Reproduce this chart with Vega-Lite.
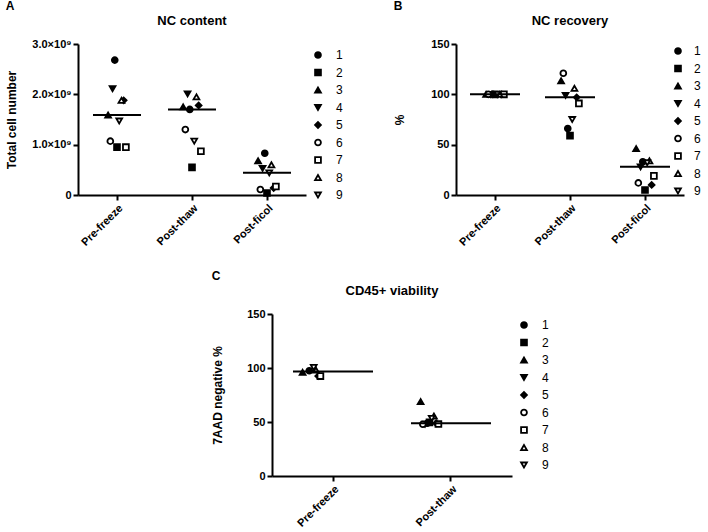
{
  "$schema": "https://vega.github.io/schema/vega-lite/v6.json",
  "padding": {"left": 5, "top": 0, "right": 0, "bottom": 0},
  "background": "white",
  "datasets": {
    "A": [
      {"cond": "Pre-freeze", "id": "1", "value": 2680000000},
      {"cond": "Pre-freeze", "id": "2", "value": 950000000},
      {"cond": "Pre-freeze", "id": "3", "value": 1590000000},
      {"cond": "Pre-freeze", "id": "4", "value": 2110000000},
      {"cond": "Pre-freeze", "id": "5", "value": 1880000000},
      {"cond": "Pre-freeze", "id": "6", "value": 1070000000},
      {"cond": "Pre-freeze", "id": "7", "value": 950000000},
      {"cond": "Pre-freeze", "id": "8", "value": 1880000000},
      {"cond": "Pre-freeze", "id": "9", "value": 1470000000},
      {"cond": "Post-thaw", "id": "1", "value": 1700000000},
      {"cond": "Post-thaw", "id": "2", "value": 550000000},
      {"cond": "Post-thaw", "id": "3", "value": 1750000000},
      {"cond": "Post-thaw", "id": "4", "value": 2010000000},
      {"cond": "Post-thaw", "id": "5", "value": 1780000000},
      {"cond": "Post-thaw", "id": "6", "value": 1300000000},
      {"cond": "Post-thaw", "id": "7", "value": 870000000},
      {"cond": "Post-thaw", "id": "8", "value": 1950000000},
      {"cond": "Post-thaw", "id": "9", "value": 1070000000},
      {"cond": "Post-ficol", "id": "1", "value": 830000000},
      {"cond": "Post-ficol", "id": "2", "value": 40000000},
      {"cond": "Post-ficol", "id": "3", "value": 680000000},
      {"cond": "Post-ficol", "id": "4", "value": 530000000},
      {"cond": "Post-ficol", "id": "5", "value": 140000000},
      {"cond": "Post-ficol", "id": "6", "value": 110000000},
      {"cond": "Post-ficol", "id": "7", "value": 170000000},
      {"cond": "Post-ficol", "id": "8", "value": 600000000},
      {"cond": "Post-ficol", "id": "9", "value": 440000000}
    ],
    "B": [
      {"cond": "Pre-freeze", "id": "1", "value": 100},
      {"cond": "Pre-freeze", "id": "2", "value": 100},
      {"cond": "Pre-freeze", "id": "3", "value": 100},
      {"cond": "Pre-freeze", "id": "4", "value": 100},
      {"cond": "Pre-freeze", "id": "5", "value": 100},
      {"cond": "Pre-freeze", "id": "6", "value": 100},
      {"cond": "Pre-freeze", "id": "7", "value": 100},
      {"cond": "Pre-freeze", "id": "8", "value": 100},
      {"cond": "Pre-freeze", "id": "9", "value": 100},
      {"cond": "Post-thaw", "id": "1", "value": 66},
      {"cond": "Post-thaw", "id": "2", "value": 59},
      {"cond": "Post-thaw", "id": "3", "value": 113.5},
      {"cond": "Post-thaw", "id": "4", "value": 99},
      {"cond": "Post-thaw", "id": "5", "value": 97},
      {"cond": "Post-thaw", "id": "6", "value": 121},
      {"cond": "Post-thaw", "id": "7", "value": 91},
      {"cond": "Post-thaw", "id": "8", "value": 106},
      {"cond": "Post-thaw", "id": "9", "value": 75},
      {"cond": "Post-ficol", "id": "1", "value": 33},
      {"cond": "Post-ficol", "id": "2", "value": 5},
      {"cond": "Post-ficol", "id": "3", "value": 46},
      {"cond": "Post-ficol", "id": "4", "value": 28},
      {"cond": "Post-ficol", "id": "5", "value": 10},
      {"cond": "Post-ficol", "id": "6", "value": 12},
      {"cond": "Post-ficol", "id": "7", "value": 19},
      {"cond": "Post-ficol", "id": "8", "value": 34},
      {"cond": "Post-ficol", "id": "9", "value": 32}
    ],
    "C": [
      {"cond": "Pre-freeze", "id": "1", "value": 97.5},
      {"cond": "Pre-freeze", "id": "3", "value": 96},
      {"cond": "Pre-freeze", "id": "5", "value": 92.5},
      {"cond": "Pre-freeze", "id": "7", "value": 92.5},
      {"cond": "Pre-freeze", "id": "8", "value": 98},
      {"cond": "Pre-freeze", "id": "9", "value": 100.5},
      {"cond": "Post-thaw", "id": "1", "value": 48.8},
      {"cond": "Post-thaw", "id": "2", "value": 49.7},
      {"cond": "Post-thaw", "id": "3", "value": 68.8},
      {"cond": "Post-thaw", "id": "4", "value": 47.9},
      {"cond": "Post-thaw", "id": "5", "value": 48.8},
      {"cond": "Post-thaw", "id": "6", "value": 47.9},
      {"cond": "Post-thaw", "id": "7", "value": 48.1},
      {"cond": "Post-thaw", "id": "8", "value": 55.5},
      {"cond": "Post-thaw", "id": "9", "value": 53.4}
    ]
  },
  "resolve": {"legend": {"shape": "independent", "fill": "independent", "stroke": "independent"}},
  "spacing": 22,
  "vconcat": [
    {
      "resolve": {"legend": {"shape": "independent", "fill": "independent", "stroke": "independent"}},
      "spacing": 45,
      "hconcat": [
        {
          "title": {"text": "A", "anchor": "start", "fontSize": 12, "offset": 2},
          "resolve": {"legend": {"shape": "independent", "fill": "independent", "stroke": "independent"}},
          "hconcat": [
            {
              "title": {"text": "NC content", "offset": 10},
              "width": 228,
              "height": 151,
              "data": {"name": "A"},
              "layer": [
                {
                  "mark": {"type": "point", "filled": true, "strokeWidth": 1.8, "size": 34, "opacity": 1},
                  "encoding": {
                    "x": {"field": "cond", "type": "nominal", "sort": ["Pre-freeze", "Post-thaw", "Post-ficol"], "scale": {"paddingInner": 0, "paddingOuter": 0.02}, "axis": {"title": null, "labelAngle": -45}},
                    "xOffset": {"field": "id", "type": "nominal", "scale": {"type": "point", "domain": ["3", "6", "4", "1", "2", "9", "8", "5", "7"], "range": [27.5, 47.5]}},
                    "y": {"field": "value", "type": "quantitative", "scale": {"domain": [0, 3000000000], "nice": false}, "axis": {"title": "Total cell number", "titlePadding": 13, "values": [0, 1000000000, 2000000000, 3000000000], "labelExpr": "datum.value == 0 ? '0' : format(datum.value / 1000000000, '.1f') + '×10⁹'"}},
                    "shape": {"field": "id", "type": "nominal", "scale": {"domain": ["1", "2", "3", "4", "5", "6", "7", "8", "9"], "range": ["circle", "square", "triangle-up", "triangle-down", "diamond", "circle", "square", "triangle-up", "triangle-down"]}, "legend": {"title": null, "offset": 1}},
                    "fill": {"field": "id", "type": "nominal", "scale": {"domain": ["1", "2", "3", "4", "5", "6", "7", "8", "9"], "range": ["black", "black", "black", "black", "black", "white", "white", "white", "white"]}, "legend": {"title": null, "offset": 1}},
                    "stroke": {"field": "id", "type": "nominal", "scale": {"domain": ["1", "2", "3", "4", "5", "6", "7", "8", "9"], "range": ["black", "black", "black", "black", "black", "black", "black", "black", "black"]}, "legend": {"title": null, "offset": 1}}
                  }
                },
                {
                  "mark": {"type": "tick", "color": "black", "thickness": 2, "size": 48},
                  "encoding": {
                    "x": {"field": "cond", "type": "nominal", "sort": ["Pre-freeze", "Post-thaw", "Post-ficol"]},
                    "y": {"aggregate": "median", "field": "value", "type": "quantitative"}
                  }
                }
              ]
            }
          ]
        },
        {
          "title": {"text": "B", "anchor": "start", "fontSize": 12, "offset": 2},
          "resolve": {"legend": {"shape": "independent", "fill": "independent", "stroke": "independent"}},
          "hconcat": [
            {
              "title": {"text": "NC recovery", "offset": 10},
              "width": 228,
              "height": 151,
              "data": {"name": "B"},
              "layer": [
                {
                  "mark": {"type": "point", "filled": true, "strokeWidth": 1.8, "size": 34, "opacity": 1},
                  "encoding": {
                    "x": {"field": "cond", "type": "nominal", "sort": ["Pre-freeze", "Post-thaw", "Post-ficol"], "scale": {"paddingInner": 0, "paddingOuter": 0.02}, "axis": {"title": null, "labelAngle": -45}},
                    "xOffset": {"field": "id", "type": "nominal", "scale": {"type": "point", "domain": ["4", "6", "2", "3", "9", "7", "8", "1", "5"], "range": [21.5, 53.5]}},
                    "y": {"field": "value", "type": "quantitative", "scale": {"domain": [0, 150], "nice": false}, "axis": {"title": "%", "titlePadding": 24, "values": [0, 50, 100, 150]}},
                    "shape": {"field": "id", "type": "nominal", "scale": {"domain": ["1", "2", "3", "4", "5", "6", "7", "8", "9"], "range": ["circle", "square", "triangle-up", "triangle-down", "diamond", "circle", "square", "triangle-up", "triangle-down"]}, "legend": {"title": null, "offset": -13, "padding": 1, "labelOffset": 10}},
                    "fill": {"field": "id", "type": "nominal", "scale": {"domain": ["1", "2", "3", "4", "5", "6", "7", "8", "9"], "range": ["black", "black", "black", "black", "black", "white", "white", "white", "white"]}, "legend": {"title": null, "offset": -13, "padding": 1, "labelOffset": 10}},
                    "stroke": {"field": "id", "type": "nominal", "scale": {"domain": ["1", "2", "3", "4", "5", "6", "7", "8", "9"], "range": ["black", "black", "black", "black", "black", "black", "black", "black", "black"]}, "legend": {"title": null, "offset": -13, "padding": 1, "labelOffset": 10}}
                  }
                },
                {
                  "mark": {"type": "tick", "color": "black", "thickness": 2, "size": 50},
                  "encoding": {
                    "x": {"field": "cond", "type": "nominal", "sort": ["Pre-freeze", "Post-thaw", "Post-ficol"]},
                    "y": {"aggregate": "median", "field": "value", "type": "quantitative"}
                  }
                }
              ]
            }
          ]
        }
      ]
    },
    {
      "resolve": {"legend": {"shape": "independent", "fill": "independent", "stroke": "independent"}},
      "spacing": 17,
      "hconcat": [
        {
          "width": 116,
          "height": 10,
          "data": {"values": []},
          "mark": {"type": "point", "opacity": 0},
          "encoding": {}
        },
        {
          "title": {"text": "C", "anchor": "start", "fontSize": 12, "offset": 2},
          "resolve": {"legend": {"shape": "independent", "fill": "independent", "stroke": "independent"}},
          "hconcat": [
            {
              "title": {"text": "CD45+ viability", "offset": 10},
              "width": 240,
              "height": 162,
              "data": {"name": "C"},
              "layer": [
                {
                  "mark": {"type": "point", "filled": true, "strokeWidth": 1.8, "size": 34, "opacity": 1},
                  "encoding": {
                    "x": {"field": "cond", "type": "nominal", "sort": ["Pre-freeze", "Post-thaw"], "scale": {"paddingInner": 0, "paddingOuter": 0.017}, "axis": {"title": null, "labelAngle": -45}},
                    "xOffset": {"field": "id", "type": "nominal", "scale": {"type": "point", "domain": ["9", "1", "4", "6", "3", "7", "5", "2", "8"], "range": [27, 91]}},
                    "y": {"field": "value", "type": "quantitative", "scale": {"domain": [0, 150], "nice": false}, "axis": {"title": "7AAD negative %", "titlePadding": 22, "values": [0, 50, 100, 150]}},
                    "shape": {"field": "id", "type": "nominal", "scale": {"domain": ["1", "2", "3", "4", "5", "6", "7", "8", "9"], "range": ["circle", "square", "triangle-up", "triangle-down", "diamond", "circle", "square", "triangle-up", "triangle-down"]}, "legend": {"title": null, "offset": 1}},
                    "fill": {"field": "id", "type": "nominal", "scale": {"domain": ["1", "2", "3", "4", "5", "6", "7", "8", "9"], "range": ["black", "black", "black", "black", "black", "white", "white", "white", "white"]}, "legend": {"title": null, "offset": 1}},
                    "stroke": {"field": "id", "type": "nominal", "scale": {"domain": ["1", "2", "3", "4", "5", "6", "7", "8", "9"], "range": ["black", "black", "black", "black", "black", "black", "black", "black", "black"]}, "legend": {"title": null, "offset": 1}}
                  }
                },
                {
                  "mark": {"type": "tick", "color": "black", "thickness": 2, "size": 80},
                  "encoding": {
                    "x": {"field": "cond", "type": "nominal", "sort": ["Pre-freeze", "Post-thaw"]},
                    "y": {"aggregate": "median", "field": "value", "type": "quantitative"}
                  }
                }
              ]
            }
          ]
        }
      ]
    }
  ],
  "config": {
    "font": "Liberation Sans",
    "view": {"stroke": null},
    "axis": {"domainColor": "black", "domainWidth": 2, "tickColor": "black", "tickWidth": 2, "tickSize": 5, "labelColor": "black", "labelFontWeight": "bold", "labelFontSize": 11, "titleColor": "black", "titleFontWeight": "bold", "titleFontSize": 12, "grid": false},
    "legend": {"orient": "right", "padding": 5, "labelFontSize": 12, "labelColor": "black", "labelOffset": 12, "rowPadding": 3.5, "symbolStrokeWidth": 1.8, "symbolSize": 34},
    "title": {"fontSize": 13, "fontWeight": "bold", "color": "black"}
  }
}
